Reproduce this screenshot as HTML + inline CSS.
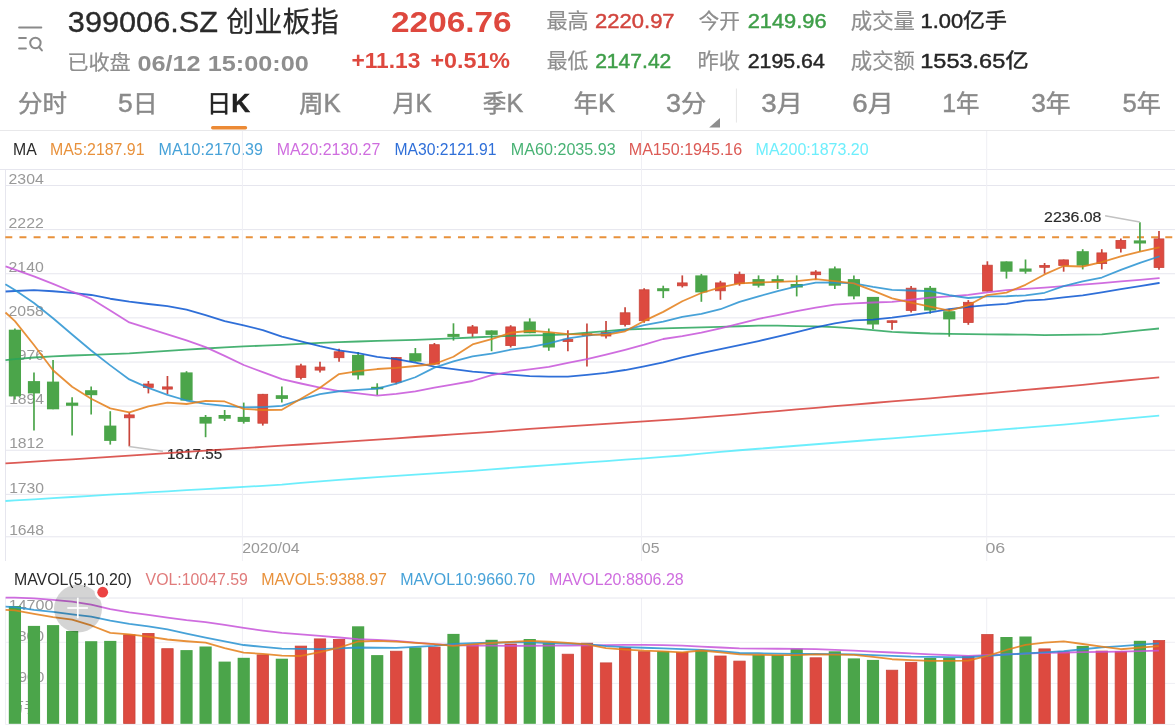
<!DOCTYPE html>
<html><head><meta charset="utf-8"><title>399006.SZ 创业板指</title>
<style>html,body{margin:0;padding:0;background:#fff;width:1175px;height:728px;overflow:hidden}svg{display:block;will-change:transform}</style>
</head><body>
<svg width="1175" height="728" viewBox="0 0 1175 728"><g stroke="#8a8a8a" stroke-width="2" fill="none" stroke-linecap="round"><line x1="19.1" y1="27.4" x2="41.3" y2="27.4"/><line x1="19.1" y1="38.1" x2="25.9" y2="38.1"/><line x1="19.1" y1="48.6" x2="25.9" y2="48.6"/><circle cx="35.4" cy="43" r="5.2"/><line x1="39.1" y1="47.2" x2="41.9" y2="50.4"/></g>
<text x="67.84" y="32.3" font-size="30.4" fill="#2a2a2a" text-anchor="start" font-weight="normal" font-family='"Liberation Sans","Noto Sans CJK SC",sans-serif' textLength="150.17" lengthAdjust="spacingAndGlyphs" stroke="#2a2a2a" stroke-width="0.35">399006.SZ</text>
<text x="226.21" y="32" font-size="28.5" fill="#2a2a2a" text-anchor="start" font-weight="normal" font-family='"Liberation Sans","Noto Sans CJK SC",sans-serif' textLength="112.59" lengthAdjust="spacingAndGlyphs" stroke="#2a2a2a" stroke-width="0.25">创业板指</text>
<text x="67.23" y="70" font-size="20.5" fill="#8e8e8e" text-anchor="start" font-weight="normal" font-family='"Liberation Sans","Noto Sans CJK SC",sans-serif' textLength="63.58" lengthAdjust="spacingAndGlyphs" stroke="#8e8e8e" stroke-width="0.2">已收盘</text>
<text x="137.45" y="70.5" font-size="22" fill="#8e8e8e" text-anchor="start" font-weight="bold" font-family='"Liberation Sans","Noto Sans CJK SC",sans-serif' textLength="171.37" lengthAdjust="spacingAndGlyphs" >06/12 15:00:00</text>
<text x="391.09" y="32.2" font-size="30" fill="#de483e" text-anchor="start" font-weight="bold" font-family='"Liberation Sans","Noto Sans CJK SC",sans-serif' textLength="120.42" lengthAdjust="spacingAndGlyphs" >2206.76</text>
<text x="351.44" y="68.4" font-size="21.4" fill="#de483e" text-anchor="start" font-weight="bold" font-family='"Liberation Sans","Noto Sans CJK SC",sans-serif' textLength="68.96" lengthAdjust="spacingAndGlyphs" >+11.13</text>
<text x="430.41" y="68.4" font-size="21.4" fill="#de483e" text-anchor="start" font-weight="bold" font-family='"Liberation Sans","Noto Sans CJK SC",sans-serif' textLength="79.66" lengthAdjust="spacingAndGlyphs" >+0.51%</text>
<text x="546.4" y="28" font-size="21" fill="#8e8e8e" text-anchor="start" font-weight="normal" font-family='"Liberation Sans","Noto Sans CJK SC",sans-serif' textLength="42.11" lengthAdjust="spacingAndGlyphs" stroke="#8e8e8e" stroke-width="0.2">最高</text>
<text x="595.13" y="28" font-size="20.5" fill="#d2453e" text-anchor="start" font-weight="normal" font-family='"Liberation Sans","Noto Sans CJK SC",sans-serif' textLength="79.46" lengthAdjust="spacingAndGlyphs" stroke="#d2453e" stroke-width="0.45">2220.97</text>
<text x="698.61" y="28" font-size="21" fill="#8e8e8e" text-anchor="start" font-weight="normal" font-family='"Liberation Sans","Noto Sans CJK SC",sans-serif' textLength="41.48" lengthAdjust="spacingAndGlyphs" stroke="#8e8e8e" stroke-width="0.2">今开</text>
<text x="747.74" y="28" font-size="20.5" fill="#3e9e48" text-anchor="start" font-weight="normal" font-family='"Liberation Sans","Noto Sans CJK SC",sans-serif' textLength="78.84" lengthAdjust="spacingAndGlyphs" stroke="#3e9e48" stroke-width="0.45">2149.96</text>
<text x="850.78" y="28" font-size="21" fill="#8e8e8e" text-anchor="start" font-weight="normal" font-family='"Liberation Sans","Noto Sans CJK SC",sans-serif' textLength="64.14" lengthAdjust="spacingAndGlyphs" stroke="#8e8e8e" stroke-width="0.2">成交量</text>
<text x="920.46" y="28" font-size="20.5" fill="#262626" text-anchor="start" font-weight="normal" font-family='"Liberation Sans","Noto Sans CJK SC",sans-serif' textLength="86.51" lengthAdjust="spacingAndGlyphs" stroke="#262626" stroke-width="0.45">1.00亿手</text>
<text x="546.71" y="67.7" font-size="21" fill="#8e8e8e" text-anchor="start" font-weight="normal" font-family='"Liberation Sans","Noto Sans CJK SC",sans-serif' textLength="41.48" lengthAdjust="spacingAndGlyphs" stroke="#8e8e8e" stroke-width="0.2">最低</text>
<text x="595.17" y="67.7" font-size="20.5" fill="#3e9e48" text-anchor="start" font-weight="normal" font-family='"Liberation Sans","Noto Sans CJK SC",sans-serif' textLength="76.17" lengthAdjust="spacingAndGlyphs" stroke="#3e9e48" stroke-width="0.45">2147.42</text>
<text x="697.57" y="67.7" font-size="21" fill="#8e8e8e" text-anchor="start" font-weight="normal" font-family='"Liberation Sans","Noto Sans CJK SC",sans-serif' textLength="42.54" lengthAdjust="spacingAndGlyphs" stroke="#8e8e8e" stroke-width="0.2">昨收</text>
<text x="747.76" y="67.7" font-size="20.5" fill="#262626" text-anchor="start" font-weight="normal" font-family='"Liberation Sans","Noto Sans CJK SC",sans-serif' textLength="77.05" lengthAdjust="spacingAndGlyphs" stroke="#262626" stroke-width="0.45">2195.64</text>
<text x="850.78" y="67.7" font-size="21" fill="#8e8e8e" text-anchor="start" font-weight="normal" font-family='"Liberation Sans","Noto Sans CJK SC",sans-serif' textLength="64.14" lengthAdjust="spacingAndGlyphs" stroke="#8e8e8e" stroke-width="0.2">成交额</text>
<text x="920.31" y="67.7" font-size="20.5" fill="#262626" text-anchor="start" font-weight="normal" font-family='"Liberation Sans","Noto Sans CJK SC",sans-serif' textLength="108.44" lengthAdjust="spacingAndGlyphs" stroke="#262626" stroke-width="0.45">1553.65亿</text>
<text x="18.06" y="112.4" font-size="25" fill="#8a8a8a" text-anchor="start" font-weight="normal" font-family='"Liberation Sans","Noto Sans CJK SC",sans-serif' textLength="48.98" lengthAdjust="spacingAndGlyphs" stroke="#8a8a8a" stroke-width="0.45"><tspan font-size="23.5">分时</tspan></text>
<text x="118.04" y="112.4" font-size="25" fill="#8a8a8a" text-anchor="start" font-weight="normal" font-family='"Liberation Sans","Noto Sans CJK SC",sans-serif' textLength="39.56" lengthAdjust="spacingAndGlyphs" stroke="#8a8a8a" stroke-width="0.45">5<tspan font-size="23.5">日</tspan></text>
<text x="206.84" y="112.4" font-size="25" fill="#222222" text-anchor="start" font-weight="normal" font-family='"Liberation Sans","Noto Sans CJK SC",sans-serif' textLength="43.25" lengthAdjust="spacingAndGlyphs" stroke="#222222" stroke-width="0.45"><tspan font-size="23.5">日</tspan><tspan font-weight="bold">K</tspan></text>
<text x="299.27" y="112.4" font-size="25" fill="#8a8a8a" text-anchor="start" font-weight="normal" font-family='"Liberation Sans","Noto Sans CJK SC",sans-serif' textLength="41.32" lengthAdjust="spacingAndGlyphs" stroke="#8a8a8a" stroke-width="0.45"><tspan font-size="23.5">周</tspan>K</text>
<text x="392.62" y="112.4" font-size="25" fill="#8a8a8a" text-anchor="start" font-weight="normal" font-family='"Liberation Sans","Noto Sans CJK SC",sans-serif' textLength="39.26" lengthAdjust="spacingAndGlyphs" stroke="#8a8a8a" stroke-width="0.45"><tspan font-size="23.5">月</tspan>K</text>
<text x="482.79" y="112.4" font-size="25" fill="#8a8a8a" text-anchor="start" font-weight="normal" font-family='"Liberation Sans","Noto Sans CJK SC",sans-serif' textLength="40.39" lengthAdjust="spacingAndGlyphs" stroke="#8a8a8a" stroke-width="0.45"><tspan font-size="23.5">季</tspan>K</text>
<text x="573.67" y="112.4" font-size="25" fill="#8a8a8a" text-anchor="start" font-weight="normal" font-family='"Liberation Sans","Noto Sans CJK SC",sans-serif' textLength="41.42" lengthAdjust="spacingAndGlyphs" stroke="#8a8a8a" stroke-width="0.45"><tspan font-size="23.5">年</tspan>K</text>
<text x="665.92" y="112.4" font-size="25" fill="#8a8a8a" text-anchor="start" font-weight="normal" font-family='"Liberation Sans","Noto Sans CJK SC",sans-serif' textLength="40.29" lengthAdjust="spacingAndGlyphs" stroke="#8a8a8a" stroke-width="0.45">3<tspan font-size="23.5">分</tspan></text>
<text x="761.39" y="112.4" font-size="25" fill="#8a8a8a" text-anchor="start" font-weight="normal" font-family='"Liberation Sans","Noto Sans CJK SC",sans-serif' textLength="41.38" lengthAdjust="spacingAndGlyphs" stroke="#8a8a8a" stroke-width="0.45">3<tspan font-size="23.5">月</tspan></text>
<text x="852.39" y="112.4" font-size="25" fill="#8a8a8a" text-anchor="start" font-weight="normal" font-family='"Liberation Sans","Noto Sans CJK SC",sans-serif' textLength="41.38" lengthAdjust="spacingAndGlyphs" stroke="#8a8a8a" stroke-width="0.45">6<tspan font-size="23.5">月</tspan></text>
<text x="942.21" y="112.4" font-size="25" fill="#8a8a8a" text-anchor="start" font-weight="normal" font-family='"Liberation Sans","Noto Sans CJK SC",sans-serif' textLength="37.19" lengthAdjust="spacingAndGlyphs" stroke="#8a8a8a" stroke-width="0.45">1<tspan font-size="23.5">年</tspan></text>
<text x="1031.15" y="112.4" font-size="25" fill="#8a8a8a" text-anchor="start" font-weight="normal" font-family='"Liberation Sans","Noto Sans CJK SC",sans-serif' textLength="39.38" lengthAdjust="spacingAndGlyphs" stroke="#8a8a8a" stroke-width="0.45">3<tspan font-size="23.5">年</tspan></text>
<text x="1122.47" y="112.4" font-size="25" fill="#8a8a8a" text-anchor="start" font-weight="normal" font-family='"Liberation Sans","Noto Sans CJK SC",sans-serif' textLength="38.34" lengthAdjust="spacingAndGlyphs" stroke="#8a8a8a" stroke-width="0.45">5<tspan font-size="23.5">年</tspan></text>
<text x="13.0" y="155.4" font-size="15.8" fill="#2a2a2a" text-anchor="start" font-weight="normal" font-family='"Liberation Sans","Noto Sans CJK SC",sans-serif' textLength="23.7" lengthAdjust="spacingAndGlyphs" >MA</text>
<text x="49.99" y="155.4" font-size="15.8" fill="#e8913b" text-anchor="start" font-weight="normal" font-family='"Liberation Sans","Noto Sans CJK SC",sans-serif' textLength="94.5" lengthAdjust="spacingAndGlyphs" >MA5:2187.91</text>
<text x="158.58" y="155.4" font-size="15.8" fill="#47a2d8" text-anchor="start" font-weight="normal" font-family='"Liberation Sans","Noto Sans CJK SC",sans-serif' textLength="104.39" lengthAdjust="spacingAndGlyphs" >MA10:2170.39</text>
<text x="276.69" y="155.4" font-size="15.8" fill="#cf6ddf" text-anchor="start" font-weight="normal" font-family='"Liberation Sans","Noto Sans CJK SC",sans-serif' textLength="103.58" lengthAdjust="spacingAndGlyphs" >MA20:2130.27</text>
<text x="394.41" y="155.4" font-size="15.8" fill="#2f6fd8" text-anchor="start" font-weight="normal" font-family='"Liberation Sans","Noto Sans CJK SC",sans-serif' textLength="102.05" lengthAdjust="spacingAndGlyphs" >MA30:2121.91</text>
<text x="510.88" y="155.4" font-size="15.8" fill="#48b274" text-anchor="start" font-weight="normal" font-family='"Liberation Sans","Noto Sans CJK SC",sans-serif' textLength="104.8" lengthAdjust="spacingAndGlyphs" >MA60:2035.93</text>
<text x="628.78" y="155.4" font-size="15.8" fill="#dc5a55" text-anchor="start" font-weight="normal" font-family='"Liberation Sans","Noto Sans CJK SC",sans-serif' textLength="113.47" lengthAdjust="spacingAndGlyphs" >MA150:1945.16</text>
<text x="755.59" y="155.4" font-size="15.8" fill="#6eeefc" text-anchor="start" font-weight="normal" font-family='"Liberation Sans","Noto Sans CJK SC",sans-serif' textLength="113.07" lengthAdjust="spacingAndGlyphs" >MA200:1873.20</text>
<text x="14.01" y="584.5" font-size="16" fill="#2a2a2a" text-anchor="start" font-weight="normal" font-family='"Liberation Sans","Noto Sans CJK SC",sans-serif' textLength="117.86" lengthAdjust="spacingAndGlyphs" >MAVOL(5,10,20)</text>
<text x="145.6" y="584.5" font-size="16" fill="#e07b7b" text-anchor="start" font-weight="normal" font-family='"Liberation Sans","Noto Sans CJK SC",sans-serif' textLength="102.29" lengthAdjust="spacingAndGlyphs" >VOL:10047.59</text>
<text x="261.3" y="584.5" font-size="16" fill="#e8913b" text-anchor="start" font-weight="normal" font-family='"Liberation Sans","Noto Sans CJK SC",sans-serif' textLength="125.71" lengthAdjust="spacingAndGlyphs" >MAVOL5:9388.97</text>
<text x="400.3" y="584.5" font-size="16" fill="#47a2d8" text-anchor="start" font-weight="normal" font-family='"Liberation Sans","Noto Sans CJK SC",sans-serif' textLength="134.8" lengthAdjust="spacingAndGlyphs" >MAVOL10:9660.70</text>
<text x="548.9" y="584.5" font-size="16" fill="#cf6ddf" text-anchor="start" font-weight="normal" font-family='"Liberation Sans","Noto Sans CJK SC",sans-serif' textLength="134.8" lengthAdjust="spacingAndGlyphs" >MAVOL20:8806.28</text>
<rect x="211" y="126" width="36.2" height="3.4" rx="1.7" fill="#ec8a35"/>
<path d="M720 118 L720 127.6 L709.2 127.6 Z" fill="#8e8e8e"/>
<line x1="736.4" y1="88.5" x2="736.4" y2="122.6" stroke="#e6e6e6" stroke-width="1"/>
<line x1="0" y1="130.5" x2="1175" y2="130.5" stroke="#e8e8ea" stroke-width="1.2"/>
<line x1="0" y1="169.5" x2="1175" y2="169.5" stroke="#e6e6ee" stroke-width="1"/>
<line x1="5.5" y1="185.50" x2="1175" y2="185.50" stroke="#e6e6ee" stroke-width="1"/>
<line x1="5.5" y1="229.62" x2="1175" y2="229.62" stroke="#e6e6ee" stroke-width="1"/>
<line x1="5.5" y1="273.75" x2="1175" y2="273.75" stroke="#e6e6ee" stroke-width="1"/>
<line x1="5.5" y1="317.88" x2="1175" y2="317.88" stroke="#e6e6ee" stroke-width="1"/>
<line x1="5.5" y1="362.00" x2="1175" y2="362.00" stroke="#e6e6ee" stroke-width="1"/>
<line x1="5.5" y1="406.12" x2="1175" y2="406.12" stroke="#e6e6ee" stroke-width="1"/>
<line x1="5.5" y1="450.25" x2="1175" y2="450.25" stroke="#e6e6ee" stroke-width="1"/>
<line x1="5.5" y1="494.38" x2="1175" y2="494.38" stroke="#e6e6ee" stroke-width="1"/>
<line x1="5.5" y1="536.8" x2="1175" y2="536.8" stroke="#e6e6ee" stroke-width="1"/>
<line x1="242.4" y1="131" x2="242.4" y2="561" stroke="#efeff4" stroke-width="1"/>
<line x1="242.4" y1="598" x2="242.4" y2="723.5" stroke="#efeff4" stroke-width="1"/>
<line x1="641.5" y1="131" x2="641.5" y2="561" stroke="#efeff4" stroke-width="1"/>
<line x1="641.5" y1="598" x2="641.5" y2="723.5" stroke="#efeff4" stroke-width="1"/>
<line x1="986.7" y1="131" x2="986.7" y2="561" stroke="#efeff4" stroke-width="1"/>
<line x1="986.7" y1="598" x2="986.7" y2="723.5" stroke="#efeff4" stroke-width="1"/>
<line x1="5.5" y1="169.5" x2="5.5" y2="561" stroke="#e6e6ee" stroke-width="1"/>
<line x1="5.5" y1="598" x2="1175" y2="598" stroke="#e6e6ee" stroke-width="1"/>
<line x1="5.5" y1="642.3" x2="1175" y2="642.3" stroke="#efeff4" stroke-width="1"/>
<line x1="5.5" y1="683.4" x2="1175" y2="683.4" stroke="#efeff4" stroke-width="1"/>
<line x1="5.5" y1="598" x2="5.5" y2="724.5" stroke="#efeff4" stroke-width="1"/>
<line x1="5.5" y1="724.5" x2="1175" y2="724.5" stroke="#efeff4" stroke-width="1"/>
<text x="8.54" y="184" font-size="15" fill="#999999" text-anchor="start" font-weight="normal" font-family='"Liberation Sans","Noto Sans CJK SC",sans-serif' textLength="35.25" lengthAdjust="spacingAndGlyphs" >2304</text>
<text x="8.54" y="228" font-size="15" fill="#999999" text-anchor="start" font-weight="normal" font-family='"Liberation Sans","Noto Sans CJK SC",sans-serif' textLength="35.25" lengthAdjust="spacingAndGlyphs" >2222</text>
<text x="8.54" y="272" font-size="15" fill="#999999" text-anchor="start" font-weight="normal" font-family='"Liberation Sans","Noto Sans CJK SC",sans-serif' textLength="35.25" lengthAdjust="spacingAndGlyphs" >2140</text>
<text x="8.54" y="316" font-size="15" fill="#999999" text-anchor="start" font-weight="normal" font-family='"Liberation Sans","Noto Sans CJK SC",sans-serif' textLength="35.25" lengthAdjust="spacingAndGlyphs" >2058</text>
<text x="9.15" y="360" font-size="15" fill="#999999" text-anchor="start" font-weight="normal" font-family='"Liberation Sans","Noto Sans CJK SC",sans-serif' textLength="34.94" lengthAdjust="spacingAndGlyphs" >1976</text>
<text x="9.15" y="404.3" font-size="15" fill="#999999" text-anchor="start" font-weight="normal" font-family='"Liberation Sans","Noto Sans CJK SC",sans-serif' textLength="34.94" lengthAdjust="spacingAndGlyphs" >1894</text>
<text x="9.15" y="448.3" font-size="15" fill="#999999" text-anchor="start" font-weight="normal" font-family='"Liberation Sans","Noto Sans CJK SC",sans-serif' textLength="34.94" lengthAdjust="spacingAndGlyphs" >1812</text>
<text x="9.15" y="492.6" font-size="15" fill="#999999" text-anchor="start" font-weight="normal" font-family='"Liberation Sans","Noto Sans CJK SC",sans-serif' textLength="34.94" lengthAdjust="spacingAndGlyphs" >1730</text>
<text x="9.15" y="534.8" font-size="15" fill="#999999" text-anchor="start" font-weight="normal" font-family='"Liberation Sans","Noto Sans CJK SC",sans-serif' textLength="34.94" lengthAdjust="spacingAndGlyphs" >1648</text>
<text x="242.17" y="553.4" font-size="15.5" fill="#999999" text-anchor="start" font-weight="normal" font-family='"Liberation Sans","Noto Sans CJK SC",sans-serif' textLength="57.56" lengthAdjust="spacingAndGlyphs" >2020/04</text>
<text x="641.88" y="553.4" font-size="15.5" fill="#999999" text-anchor="start" font-weight="normal" font-family='"Liberation Sans","Noto Sans CJK SC",sans-serif' textLength="17.68" lengthAdjust="spacingAndGlyphs" >05</text>
<text x="985.45" y="553.4" font-size="15.5" fill="#999999" text-anchor="start" font-weight="normal" font-family='"Liberation Sans","Noto Sans CJK SC",sans-serif' textLength="19.84" lengthAdjust="spacingAndGlyphs" >06</text>
<text x="8.73" y="610.2" font-size="15" fill="#999999" text-anchor="start" font-weight="normal" font-family='"Liberation Sans","Noto Sans CJK SC",sans-serif' textLength="44.74" lengthAdjust="spacingAndGlyphs" >14700</text>
<text x="8.94" y="640.5" font-size="15" fill="#999999" text-anchor="start" font-weight="normal" font-family='"Liberation Sans","Noto Sans CJK SC",sans-serif' textLength="35.25" lengthAdjust="spacingAndGlyphs" >9800</text>
<text x="10.0" y="681.6" font-size="15" fill="#999999" text-anchor="start" font-weight="normal" font-family='"Liberation Sans","Noto Sans CJK SC",sans-serif' textLength="34.18" lengthAdjust="spacingAndGlyphs" >4900</text>
<text x="10" y="712" font-size="14" fill="#999999" text-anchor="start" font-weight="normal" font-family='"Liberation Sans","Noto Sans CJK SC",sans-serif' >万手</text>
<line x1="5.3" y1="237.2" x2="1175" y2="237.2" stroke="#e8913b" stroke-width="2" stroke-dasharray="7,7.146"/>
<line x1="14.91" y1="328.4" x2="14.91" y2="399.5" stroke="#4ba54a" stroke-width="1.7"/>
<rect x="8.81" y="329.7" width="12.2" height="66.7" fill="#4ba54a"/>
<line x1="33.98" y1="372.4" x2="33.98" y2="430.5" stroke="#4ba54a" stroke-width="1.7"/>
<rect x="27.88" y="381.1" width="12.2" height="12.3" fill="#4ba54a"/>
<line x1="53.05" y1="360" x2="53.05" y2="409.3" stroke="#4ba54a" stroke-width="1.7"/>
<rect x="46.95" y="381.6" width="12.2" height="27.7" fill="#4ba54a"/>
<line x1="72.11" y1="397.2" x2="72.11" y2="435.5" stroke="#4ba54a" stroke-width="1.7"/>
<rect x="66.01" y="402.6" width="12.2" height="3.2" fill="#4ba54a"/>
<line x1="91.18" y1="386.5" x2="91.18" y2="414.5" stroke="#4ba54a" stroke-width="1.7"/>
<rect x="85.08" y="390.2" width="12.2" height="5.0" fill="#4ba54a"/>
<line x1="110.25" y1="411.2" x2="110.25" y2="444.6" stroke="#4ba54a" stroke-width="1.7"/>
<rect x="104.15" y="425.6" width="12.2" height="15.3" fill="#4ba54a"/>
<line x1="129.32" y1="412.5" x2="129.32" y2="446.4" stroke="#c8453b" stroke-width="1.7"/>
<rect x="124.42" y="414.90" width="9.8" height="2.9" fill="#dd4a40" stroke="#c8453b" stroke-width="0.8"/>
<line x1="148.39" y1="381" x2="148.39" y2="393.4" stroke="#c8453b" stroke-width="1.7"/>
<rect x="143.49" y="384.00" width="9.8" height="3.4" fill="#dd4a40" stroke="#c8453b" stroke-width="0.8"/>
<line x1="167.45" y1="376" x2="167.45" y2="394" stroke="#c8453b" stroke-width="1.7"/>
<rect x="162.55" y="386.90" width="9.8" height="2.2" fill="#dd4a40" stroke="#c8453b" stroke-width="0.8"/>
<line x1="186.52" y1="371.2" x2="186.52" y2="400.6" stroke="#4ba54a" stroke-width="1.7"/>
<rect x="180.42" y="372.4" width="12.2" height="28.2" fill="#4ba54a"/>
<line x1="205.59" y1="415" x2="205.59" y2="437.2" stroke="#4ba54a" stroke-width="1.7"/>
<rect x="199.49" y="416.9" width="12.2" height="6.7" fill="#4ba54a"/>
<line x1="224.66" y1="410" x2="224.66" y2="421" stroke="#4ba54a" stroke-width="1.7"/>
<rect x="218.56" y="415" width="12.2" height="3.7" fill="#4ba54a"/>
<line x1="243.73" y1="402.6" x2="243.73" y2="423.6" stroke="#4ba54a" stroke-width="1.7"/>
<rect x="237.63" y="416.9" width="12.2" height="5.0" fill="#4ba54a"/>
<line x1="262.79" y1="393.9" x2="262.79" y2="425.6" stroke="#c8453b" stroke-width="1.7"/>
<rect x="257.89" y="394.30" width="9.8" height="28.9" fill="#dd4a40" stroke="#c8453b" stroke-width="0.8"/>
<line x1="281.86" y1="386.5" x2="281.86" y2="402.6" stroke="#4ba54a" stroke-width="1.7"/>
<rect x="275.76" y="395.2" width="12.2" height="3.7" fill="#4ba54a"/>
<line x1="300.93" y1="363.8" x2="300.93" y2="379.6" stroke="#c8453b" stroke-width="1.7"/>
<rect x="296.03" y="365.90" width="9.8" height="11.6" fill="#dd4a40" stroke="#c8453b" stroke-width="0.8"/>
<line x1="320.00" y1="361.8" x2="320.00" y2="372.4" stroke="#c8453b" stroke-width="1.7"/>
<rect x="315.10" y="367.10" width="9.8" height="3.0" fill="#dd4a40" stroke="#c8453b" stroke-width="0.8"/>
<line x1="339.07" y1="348.7" x2="339.07" y2="361.8" stroke="#c8453b" stroke-width="1.7"/>
<rect x="334.17" y="351.80" width="9.8" height="5.9" fill="#dd4a40" stroke="#c8453b" stroke-width="0.8"/>
<line x1="358.13" y1="351.9" x2="358.13" y2="379.6" stroke="#4ba54a" stroke-width="1.7"/>
<rect x="352.03" y="354.9" width="12.2" height="20.5" fill="#4ba54a"/>
<line x1="377.20" y1="383.3" x2="377.20" y2="395" stroke="#4ba54a" stroke-width="1.7"/>
<rect x="371.10" y="386.8" width="12.2" height="2.5" fill="#4ba54a"/>
<line x1="396.27" y1="357.1" x2="396.27" y2="384.3" stroke="#c8453b" stroke-width="1.7"/>
<rect x="391.37" y="357.50" width="9.8" height="24.7" fill="#dd4a40" stroke="#c8453b" stroke-width="0.8"/>
<line x1="415.34" y1="348" x2="415.34" y2="361.6" stroke="#4ba54a" stroke-width="1.7"/>
<rect x="409.24" y="353.2" width="12.2" height="8.4" fill="#4ba54a"/>
<line x1="434.41" y1="343" x2="434.41" y2="364.5" stroke="#c8453b" stroke-width="1.7"/>
<rect x="429.51" y="344.70" width="9.8" height="19.4" fill="#dd4a40" stroke="#c8453b" stroke-width="0.8"/>
<line x1="453.47" y1="323.3" x2="453.47" y2="340.6" stroke="#4ba54a" stroke-width="1.7"/>
<rect x="447.37" y="333.9" width="12.2" height="3.0" fill="#4ba54a"/>
<line x1="472.54" y1="325" x2="472.54" y2="336.9" stroke="#c8453b" stroke-width="1.7"/>
<rect x="467.64" y="326.90" width="9.8" height="6.3" fill="#dd4a40" stroke="#c8453b" stroke-width="0.8"/>
<line x1="491.61" y1="330.4" x2="491.61" y2="351.2" stroke="#4ba54a" stroke-width="1.7"/>
<rect x="485.51" y="330.4" width="12.2" height="4.5" fill="#4ba54a"/>
<line x1="510.68" y1="325.2" x2="510.68" y2="347.5" stroke="#c8453b" stroke-width="1.7"/>
<rect x="505.78" y="326.90" width="9.8" height="18.7" fill="#dd4a40" stroke="#c8453b" stroke-width="0.8"/>
<line x1="529.75" y1="318.3" x2="529.75" y2="333.2" stroke="#4ba54a" stroke-width="1.7"/>
<rect x="523.65" y="321.5" width="12.2" height="11.7" fill="#4ba54a"/>
<line x1="548.81" y1="328.5" x2="548.81" y2="350.8" stroke="#4ba54a" stroke-width="1.7"/>
<rect x="542.71" y="332.7" width="12.2" height="14.8" fill="#4ba54a"/>
<line x1="567.88" y1="330.2" x2="567.88" y2="351.2" stroke="#c8453b" stroke-width="1.7"/>
<rect x="562.98" y="339.30" width="9.8" height="2.2" fill="#dd4a40" stroke="#c8453b" stroke-width="0.8"/>
<line x1="586.95" y1="323.6" x2="586.95" y2="366.6" stroke="#c8453b" stroke-width="1.7"/>
<rect x="582.05" y="333.80" width="9.8" height="1.6" fill="#dd4a40" stroke="#c8453b" stroke-width="0.8"/>
<line x1="606.02" y1="321" x2="606.02" y2="338.4" stroke="#c8453b" stroke-width="1.7"/>
<rect x="601.12" y="332.60" width="9.8" height="3.4" fill="#dd4a40" stroke="#c8453b" stroke-width="0.8"/>
<line x1="625.09" y1="307.2" x2="625.09" y2="326.5" stroke="#c8453b" stroke-width="1.7"/>
<rect x="620.19" y="312.80" width="9.8" height="11.6" fill="#dd4a40" stroke="#c8453b" stroke-width="0.8"/>
<line x1="644.15" y1="288.2" x2="644.15" y2="322.8" stroke="#c8453b" stroke-width="1.7"/>
<rect x="639.25" y="289.80" width="9.8" height="30.9" fill="#dd4a40" stroke="#c8453b" stroke-width="0.8"/>
<line x1="663.22" y1="285.7" x2="663.22" y2="298.1" stroke="#4ba54a" stroke-width="1.7"/>
<rect x="657.12" y="288.2" width="12.2" height="3.0" fill="#4ba54a"/>
<line x1="682.29" y1="275.4" x2="682.29" y2="287.5" stroke="#c8453b" stroke-width="1.7"/>
<rect x="677.39" y="282.90" width="9.8" height="2.9" fill="#dd4a40" stroke="#c8453b" stroke-width="0.8"/>
<line x1="701.36" y1="273.9" x2="701.36" y2="301.8" stroke="#4ba54a" stroke-width="1.7"/>
<rect x="695.26" y="275.4" width="12.2" height="17.0" fill="#4ba54a"/>
<line x1="720.43" y1="280.8" x2="720.43" y2="299.8" stroke="#c8453b" stroke-width="1.7"/>
<rect x="715.53" y="282.90" width="9.8" height="7.9" fill="#dd4a40" stroke="#c8453b" stroke-width="0.8"/>
<line x1="739.49" y1="271.6" x2="739.49" y2="285.7" stroke="#c8453b" stroke-width="1.7"/>
<rect x="734.59" y="274.30" width="9.8" height="9.3" fill="#dd4a40" stroke="#c8453b" stroke-width="0.8"/>
<line x1="758.56" y1="275.4" x2="758.56" y2="287.5" stroke="#4ba54a" stroke-width="1.7"/>
<rect x="752.46" y="279.1" width="12.2" height="6.6" fill="#4ba54a"/>
<line x1="777.63" y1="275.4" x2="777.63" y2="289" stroke="#4ba54a" stroke-width="1.7"/>
<rect x="771.53" y="279.1" width="12.2" height="2.9" fill="#4ba54a"/>
<line x1="796.70" y1="275.4" x2="796.70" y2="296.4" stroke="#4ba54a" stroke-width="1.7"/>
<rect x="790.60" y="284" width="12.2" height="3.5" fill="#4ba54a"/>
<line x1="815.77" y1="270.2" x2="815.77" y2="279.6" stroke="#c8453b" stroke-width="1.7"/>
<rect x="810.87" y="272.00" width="9.8" height="2.7" fill="#dd4a40" stroke="#c8453b" stroke-width="0.8"/>
<line x1="834.83" y1="266.5" x2="834.83" y2="289" stroke="#4ba54a" stroke-width="1.7"/>
<rect x="828.73" y="268.4" width="12.2" height="17.3" fill="#4ba54a"/>
<line x1="853.90" y1="275.4" x2="853.90" y2="299.3" stroke="#4ba54a" stroke-width="1.7"/>
<rect x="847.80" y="279.1" width="12.2" height="17.3" fill="#4ba54a"/>
<line x1="872.97" y1="296.9" x2="872.97" y2="329" stroke="#4ba54a" stroke-width="1.7"/>
<rect x="866.87" y="296.9" width="12.2" height="27.6" fill="#4ba54a"/>
<line x1="892.04" y1="320.4" x2="892.04" y2="329.8" stroke="#c8453b" stroke-width="1.7"/>
<rect x="887.14" y="320.80" width="9.8" height="1.7" fill="#dd4a40" stroke="#c8453b" stroke-width="0.8"/>
<line x1="911.11" y1="286" x2="911.11" y2="312.5" stroke="#c8453b" stroke-width="1.7"/>
<rect x="906.21" y="288.20" width="9.8" height="22.2" fill="#dd4a40" stroke="#c8453b" stroke-width="0.8"/>
<line x1="930.17" y1="286" x2="930.17" y2="313.7" stroke="#4ba54a" stroke-width="1.7"/>
<rect x="924.07" y="287.8" width="12.2" height="22.7" fill="#4ba54a"/>
<line x1="949.24" y1="308.8" x2="949.24" y2="336.7" stroke="#4ba54a" stroke-width="1.7"/>
<rect x="943.14" y="311.2" width="12.2" height="8.2" fill="#4ba54a"/>
<line x1="968.31" y1="300.1" x2="968.31" y2="324.8" stroke="#c8453b" stroke-width="1.7"/>
<rect x="963.41" y="302.30" width="9.8" height="20.2" fill="#dd4a40" stroke="#c8453b" stroke-width="0.8"/>
<line x1="987.38" y1="261.3" x2="987.38" y2="291.5" stroke="#c8453b" stroke-width="1.7"/>
<rect x="982.48" y="265.20" width="9.8" height="25.9" fill="#dd4a40" stroke="#c8453b" stroke-width="0.8"/>
<line x1="1006.45" y1="261.4" x2="1006.45" y2="278.6" stroke="#4ba54a" stroke-width="1.7"/>
<rect x="1000.35" y="261.4" width="12.2" height="10.3" fill="#4ba54a"/>
<line x1="1025.51" y1="259.5" x2="1025.51" y2="273.7" stroke="#4ba54a" stroke-width="1.7"/>
<rect x="1019.41" y="268.5" width="12.2" height="3.2" fill="#4ba54a"/>
<line x1="1044.58" y1="263" x2="1044.58" y2="273.7" stroke="#c8453b" stroke-width="1.7"/>
<rect x="1039.68" y="265.40" width="9.8" height="1.9" fill="#dd4a40" stroke="#c8453b" stroke-width="0.8"/>
<line x1="1063.65" y1="259.5" x2="1063.65" y2="271.7" stroke="#c8453b" stroke-width="1.7"/>
<rect x="1058.75" y="259.90" width="9.8" height="5.5" fill="#dd4a40" stroke="#c8453b" stroke-width="0.8"/>
<line x1="1082.72" y1="249.2" x2="1082.72" y2="269.4" stroke="#4ba54a" stroke-width="1.7"/>
<rect x="1076.62" y="251.2" width="12.2" height="14.4" fill="#4ba54a"/>
<line x1="1101.79" y1="249.2" x2="1101.79" y2="269.4" stroke="#c8453b" stroke-width="1.7"/>
<rect x="1096.89" y="252.90" width="9.8" height="10.7" fill="#dd4a40" stroke="#c8453b" stroke-width="0.8"/>
<line x1="1120.85" y1="238.5" x2="1120.85" y2="252.5" stroke="#c8453b" stroke-width="1.7"/>
<rect x="1115.95" y="240.40" width="9.8" height="7.9" fill="#dd4a40" stroke="#c8453b" stroke-width="0.8"/>
<line x1="1139.92" y1="222.3" x2="1139.92" y2="251.5" stroke="#4ba54a" stroke-width="1.7"/>
<rect x="1133.82" y="240.4" width="12.2" height="3.1" fill="#4ba54a"/>
<line x1="1158.99" y1="231" x2="1158.99" y2="269.8" stroke="#c8453b" stroke-width="1.7"/>
<rect x="1154.09" y="238.90" width="9.8" height="28.6" fill="#dd4a40" stroke="#c8453b" stroke-width="0.8"/>
<polyline points="129,446.4 162.9,451.3" fill="none" stroke="#c2c2c2" stroke-width="1.5"/>
<polyline points="1105.1,215.7 1139.8,222" fill="none" stroke="#c2c2c2" stroke-width="1.5"/>
<text x="167.02" y="458.7" font-size="15.5" fill="#2a2a2a" text-anchor="start" font-weight="normal" font-family='"Liberation Sans","Noto Sans CJK SC",sans-serif' textLength="55.11" lengthAdjust="spacingAndGlyphs" stroke="#2a2a2a" stroke-width="0.2">1817.55</text>
<text x="1044.08" y="222" font-size="15.5" fill="#2a2a2a" text-anchor="start" font-weight="normal" font-family='"Liberation Sans","Noto Sans CJK SC",sans-serif' textLength="57.36" lengthAdjust="spacingAndGlyphs" stroke="#2a2a2a" stroke-width="0.2">2236.08</text>
<polyline points="5.50,501.00 14.91,500.43 33.98,499.28 53.05,498.13 72.11,496.98 91.18,495.83 110.25,494.69 129.32,493.54 148.39,492.43 167.45,491.33 186.52,490.22 205.59,489.12 224.66,488.01 243.73,486.90 262.79,485.80 281.86,484.64 300.93,482.96 320.00,481.28 339.07,479.79 358.13,478.51 377.20,477.22 396.27,475.94 415.34,474.65 434.41,473.37 453.47,472.09 472.54,470.80 491.61,469.42 510.68,467.97 529.75,466.52 548.81,465.15 567.88,463.77 586.95,462.40 606.02,461.03 625.09,459.65 644.15,458.28 663.22,456.91 682.29,455.48 701.36,453.69 720.43,451.90 739.49,450.25 758.56,448.75 777.63,447.25 796.70,445.75 815.77,444.25 834.83,442.75 853.90,441.25 872.97,439.75 892.04,438.29 911.11,436.84 930.17,435.39 949.24,433.83 968.31,432.28 987.38,430.73 1006.45,429.18 1025.51,427.63 1044.58,426.08 1063.65,424.53 1082.72,422.93 1101.79,421.02 1120.85,419.11 1139.92,417.35 1159.20,415.70" fill="none" stroke="#54ebfb" stroke-opacity="0.85" stroke-width="1.8" stroke-linejoin="round" stroke-linecap="butt"/>
<polyline points="5.50,463.40 14.91,462.82 33.98,461.64 53.05,460.46 72.11,459.29 91.18,458.06 110.25,456.80 129.32,455.55 148.39,454.31 167.45,453.08 186.52,451.84 205.59,450.61 224.66,449.38 243.73,448.15 262.79,446.91 281.86,445.68 300.93,444.50 320.00,443.32 339.07,442.10 358.13,440.82 377.20,439.55 396.27,438.28 415.34,437.01 434.41,435.74 453.47,434.47 472.54,433.20 491.61,431.79 510.68,430.31 529.75,428.82 548.81,427.58 567.88,426.35 586.95,425.12 606.02,423.88 625.09,422.65 644.15,421.42 663.22,420.18 682.29,418.92 701.36,417.39 720.43,415.87 739.49,414.30 758.56,412.68 777.63,411.07 796.70,409.45 815.77,407.84 834.83,406.22 853.90,404.61 872.97,403.00 892.04,401.44 911.11,399.91 930.17,398.38 949.24,396.69 968.31,395.00 987.38,393.31 1006.45,391.62 1025.51,389.93 1044.58,388.24 1063.65,386.55 1082.72,384.83 1101.79,382.92 1120.85,381.01 1139.92,379.15 1159.20,377.30" fill="none" stroke="#d63d37" stroke-opacity="0.85" stroke-width="1.8" stroke-linejoin="round" stroke-linecap="butt"/>
<polyline points="5.50,360.20 14.91,359.16 33.98,357.50 53.05,356.46 72.11,355.52 91.18,354.82 110.25,354.11 129.32,353.38 148.39,352.19 167.45,350.89 186.52,349.59 205.59,348.48 224.66,347.44 243.73,346.42 262.79,345.65 281.86,344.85 300.93,343.89 320.00,342.92 339.07,342.15 358.13,341.52 377.20,340.89 396.27,340.41 415.34,339.86 434.41,339.09 453.47,338.32 472.54,337.52 491.61,336.68 510.68,335.83 529.75,335.36 548.81,335.05 567.88,334.45 586.95,332.63 606.02,331.09 625.09,329.48 644.15,328.89 663.22,328.42 682.29,327.92 701.36,327.40 720.43,326.84 739.49,326.24 758.56,325.65 777.63,325.67 796.70,326.05 815.77,326.44 834.83,327.20 853.90,328.32 872.97,330.17 892.04,331.91 911.11,332.75 930.17,333.51 949.24,333.78 968.31,334.05 987.38,334.29 1006.45,334.48 1025.51,334.67 1044.58,335.11 1063.65,334.96 1082.72,334.67 1101.79,334.32 1120.85,332.38 1139.92,330.44 1159.00,328.50" fill="none" stroke="#28a45b" stroke-opacity="0.85" stroke-width="1.8" stroke-linejoin="round" stroke-linecap="butt"/>
<polyline points="5.60,291.50 14.91,291.00 33.98,290.04 53.05,291.25 72.11,292.89 91.18,294.99 110.25,298.74 129.32,301.71 148.39,304.00 167.45,306.06 186.52,309.65 205.59,315.08 224.66,321.05 243.73,325.44 262.79,330.09 281.86,336.54 300.93,341.32 320.00,346.06 339.07,350.33 358.13,353.23 377.20,356.87 396.27,359.02 415.34,362.74 434.41,366.53 453.47,369.10 472.54,371.60 491.61,373.10 510.68,374.59 529.75,376.14 548.81,376.54 567.88,376.64 586.95,374.87 606.02,372.87 625.09,370.01 644.15,366.28 663.22,362.48 682.29,357.33 701.36,353.12 720.43,349.21 739.49,345.15 758.56,341.06 777.63,336.59 796.70,332.08 815.77,327.31 834.83,323.44 853.90,320.29 872.97,319.64 892.04,317.72 911.11,315.06 930.17,312.37 949.24,309.14 968.31,306.89 987.38,305.09 1006.45,303.88 1025.51,300.58 1044.58,299.56 1063.65,297.48 1082.72,295.40 1101.79,292.32 1120.85,289.06 1139.92,286.03 1158.99,283.00 1159.60,282.90" fill="none" stroke="#0a56d1" stroke-opacity="0.85" stroke-width="1.8" stroke-linejoin="round" stroke-linecap="butt"/>
<polyline points="5.60,266.40 14.91,269.67 33.98,276.38 53.05,283.87 72.11,291.72 91.18,298.65 110.25,310.51 129.32,322.43 148.39,328.43 167.45,334.40 186.52,340.37 205.59,347.16 224.66,355.93 243.73,365.02 262.79,372.15 281.86,379.20 300.93,383.50 320.00,387.61 339.07,391.19 358.13,393.38 377.20,395.69 396.27,393.81 415.34,391.36 434.41,387.69 453.47,384.33 472.54,380.99 491.61,375.23 510.68,371.70 529.75,369.45 548.81,366.82 567.88,362.97 586.95,359.19 606.02,354.55 625.09,349.77 644.15,344.73 663.22,339.01 682.29,336.10 701.36,332.57 720.43,328.39 739.49,323.56 758.56,318.81 777.63,315.01 796.70,311.23 815.77,307.68 834.83,304.56 853.90,303.30 872.97,302.49 892.04,301.83 911.11,299.76 930.17,297.65 949.24,296.36 968.31,294.96 987.38,292.39 1006.45,290.03 1025.51,288.88 1044.58,287.64 1063.65,286.20 1082.72,284.70 1101.79,283.07 1120.85,281.43 1139.92,279.79 1158.99,278.15 1159.60,278.10" fill="none" stroke="#c753d9" stroke-opacity="0.85" stroke-width="1.8" stroke-linejoin="round" stroke-linecap="butt"/>
<polyline points="5.40,284.20 14.91,290.11 33.98,302.99 53.05,318.28 72.11,334.47 91.18,350.44 110.25,365.38 129.32,379.42 148.39,387.83 167.45,394.96 186.52,400.50 205.59,403.89 224.66,405.82 243.73,407.46 262.79,407.10 281.86,405.80 300.93,399.48 320.00,394.15 339.07,391.24 358.13,389.89 377.20,388.68 396.27,383.68 415.34,377.23 434.41,367.66 453.47,361.40 472.54,356.40 491.61,353.58 510.68,349.72 529.75,347.14 548.81,343.42 567.88,338.42 586.95,335.57 606.02,333.52 625.09,329.98 644.15,325.23 663.22,321.67 682.29,316.88 701.36,313.97 720.43,309.22 739.49,301.92 758.56,296.35 777.63,291.14 796.70,286.49 815.77,282.63 834.83,282.50 853.90,283.47 872.97,286.94 892.04,289.85 911.11,290.50 930.17,291.17 949.24,295.24 968.31,298.01 987.38,296.40 1006.45,296.27 1025.51,295.33 1044.58,292.77 1063.65,286.16 1082.72,281.30 1101.79,277.52 1120.85,269.94 1139.92,262.88 1158.99,256.50 1159.60,256.30" fill="none" stroke="#2792d1" stroke-opacity="0.85" stroke-width="1.8" stroke-linejoin="round" stroke-linecap="butt"/>
<polyline points="5.50,312.50 14.91,321.12 33.98,345.04 53.05,370.20 72.11,386.76 91.18,398.70 110.25,408.33 129.32,412.27 148.39,406.28 167.45,402.72 186.52,403.99 205.59,400.92 224.66,401.47 243.73,408.92 262.79,410.00 281.86,409.74 300.93,398.84 320.00,387.81 339.07,374.07 358.13,371.18 377.20,369.02 396.27,367.84 415.34,365.98 434.41,364.02 453.47,356.76 472.54,344.43 491.61,339.10 510.68,332.74 529.75,330.76 548.81,332.05 567.88,334.06 586.95,334.50 606.02,334.87 625.09,331.27 644.15,320.93 663.22,311.88 682.29,301.22 701.36,293.00 720.43,287.27 739.49,283.36 758.56,282.48 777.63,281.83 796.70,281.21 815.77,279.16 834.83,281.21 853.90,283.45 872.97,290.58 892.04,298.40 911.11,302.53 930.17,306.52 949.24,310.57 968.31,305.29 987.38,295.06 1006.45,292.57 1025.51,284.82 1044.58,274.43 1063.65,266.00 1082.72,266.50 1101.79,262.13 1120.85,256.40 1139.92,251.62 1158.99,247.43 1159.60,247.30" fill="none" stroke="#e47e18" stroke-opacity="0.85" stroke-width="1.8" stroke-linejoin="round" stroke-linecap="butt"/>
<rect x="8.81" y="606" width="12.2" height="117.8" fill="#4ba54a"/>
<rect x="27.88" y="625.9" width="12.2" height="97.9" fill="#4ba54a"/>
<rect x="46.95" y="625.1" width="12.2" height="98.7" fill="#4ba54a"/>
<rect x="66.01" y="631" width="12.2" height="92.8" fill="#4ba54a"/>
<rect x="85.08" y="641.2" width="12.2" height="82.6" fill="#4ba54a"/>
<rect x="104.15" y="640.9" width="12.2" height="82.9" fill="#4ba54a"/>
<rect x="123.62" y="634.90" width="11.4" height="88.5" fill="#dd4a40" stroke="#c8453b" stroke-width="0.8"/>
<rect x="142.69" y="633.40" width="11.4" height="90.0" fill="#dd4a40" stroke="#c8453b" stroke-width="0.8"/>
<rect x="161.75" y="648.70" width="11.4" height="74.7" fill="#dd4a40" stroke="#c8453b" stroke-width="0.8"/>
<rect x="180.42" y="650.1" width="12.2" height="73.7" fill="#4ba54a"/>
<rect x="199.49" y="646.5" width="12.2" height="77.3" fill="#4ba54a"/>
<rect x="218.56" y="661.6" width="12.2" height="62.2" fill="#4ba54a"/>
<rect x="237.63" y="657.8" width="12.2" height="66.0" fill="#4ba54a"/>
<rect x="257.09" y="654.90" width="11.4" height="68.5" fill="#dd4a40" stroke="#c8453b" stroke-width="0.8"/>
<rect x="275.76" y="658.7" width="12.2" height="65.1" fill="#4ba54a"/>
<rect x="295.23" y="646.10" width="11.4" height="77.3" fill="#dd4a40" stroke="#c8453b" stroke-width="0.8"/>
<rect x="314.30" y="638.90" width="11.4" height="84.5" fill="#dd4a40" stroke="#c8453b" stroke-width="0.8"/>
<rect x="333.37" y="639.40" width="11.4" height="84.0" fill="#dd4a40" stroke="#c8453b" stroke-width="0.8"/>
<rect x="352.03" y="626.3" width="12.2" height="97.5" fill="#4ba54a"/>
<rect x="371.10" y="655.1" width="12.2" height="68.7" fill="#4ba54a"/>
<rect x="390.57" y="651.20" width="11.4" height="72.2" fill="#dd4a40" stroke="#c8453b" stroke-width="0.8"/>
<rect x="409.24" y="647.4" width="12.2" height="76.4" fill="#4ba54a"/>
<rect x="428.71" y="647.10" width="11.4" height="76.3" fill="#dd4a40" stroke="#c8453b" stroke-width="0.8"/>
<rect x="447.37" y="633.9" width="12.2" height="89.9" fill="#4ba54a"/>
<rect x="466.84" y="644.80" width="11.4" height="78.6" fill="#dd4a40" stroke="#c8453b" stroke-width="0.8"/>
<rect x="485.51" y="639.8" width="12.2" height="84.0" fill="#4ba54a"/>
<rect x="504.98" y="644.00" width="11.4" height="79.4" fill="#dd4a40" stroke="#c8453b" stroke-width="0.8"/>
<rect x="523.65" y="639" width="12.2" height="84.8" fill="#4ba54a"/>
<rect x="542.71" y="643.1" width="12.2" height="80.7" fill="#4ba54a"/>
<rect x="562.18" y="654.20" width="11.4" height="69.2" fill="#dd4a40" stroke="#c8453b" stroke-width="0.8"/>
<rect x="581.25" y="643.20" width="11.4" height="80.2" fill="#dd4a40" stroke="#c8453b" stroke-width="0.8"/>
<rect x="600.32" y="662.90" width="11.4" height="60.5" fill="#dd4a40" stroke="#c8453b" stroke-width="0.8"/>
<rect x="619.39" y="647.80" width="11.4" height="75.6" fill="#dd4a40" stroke="#c8453b" stroke-width="0.8"/>
<rect x="638.45" y="651.70" width="11.4" height="71.7" fill="#dd4a40" stroke="#c8453b" stroke-width="0.8"/>
<rect x="657.12" y="651.3" width="12.2" height="72.5" fill="#4ba54a"/>
<rect x="676.59" y="652.40" width="11.4" height="71.0" fill="#dd4a40" stroke="#c8453b" stroke-width="0.8"/>
<rect x="695.26" y="650.5" width="12.2" height="73.3" fill="#4ba54a"/>
<rect x="714.73" y="656.00" width="11.4" height="67.4" fill="#dd4a40" stroke="#c8453b" stroke-width="0.8"/>
<rect x="733.79" y="661.10" width="11.4" height="62.3" fill="#dd4a40" stroke="#c8453b" stroke-width="0.8"/>
<rect x="752.46" y="655.1" width="12.2" height="68.7" fill="#4ba54a"/>
<rect x="771.53" y="655.1" width="12.2" height="68.7" fill="#4ba54a"/>
<rect x="790.60" y="648.7" width="12.2" height="75.1" fill="#4ba54a"/>
<rect x="810.07" y="657.80" width="11.4" height="65.6" fill="#dd4a40" stroke="#c8453b" stroke-width="0.8"/>
<rect x="828.73" y="651.3" width="12.2" height="72.5" fill="#4ba54a"/>
<rect x="847.80" y="658.4" width="12.2" height="65.4" fill="#4ba54a"/>
<rect x="866.87" y="659.9" width="12.2" height="63.9" fill="#4ba54a"/>
<rect x="886.34" y="670.20" width="11.4" height="53.2" fill="#dd4a40" stroke="#c8453b" stroke-width="0.8"/>
<rect x="905.41" y="662.30" width="11.4" height="61.1" fill="#dd4a40" stroke="#c8453b" stroke-width="0.8"/>
<rect x="924.07" y="657.9" width="12.2" height="65.9" fill="#4ba54a"/>
<rect x="943.14" y="657.9" width="12.2" height="65.9" fill="#4ba54a"/>
<rect x="962.61" y="656.60" width="11.4" height="66.8" fill="#dd4a40" stroke="#c8453b" stroke-width="0.8"/>
<rect x="981.68" y="634.60" width="11.4" height="88.8" fill="#dd4a40" stroke="#c8453b" stroke-width="0.8"/>
<rect x="1000.35" y="637" width="12.2" height="86.8" fill="#4ba54a"/>
<rect x="1019.41" y="636.5" width="12.2" height="87.3" fill="#4ba54a"/>
<rect x="1038.88" y="648.90" width="11.4" height="74.5" fill="#dd4a40" stroke="#c8453b" stroke-width="0.8"/>
<rect x="1057.95" y="651.70" width="11.4" height="71.7" fill="#dd4a40" stroke="#c8453b" stroke-width="0.8"/>
<rect x="1076.62" y="645.9" width="12.2" height="77.9" fill="#4ba54a"/>
<rect x="1096.09" y="651.10" width="11.4" height="72.3" fill="#dd4a40" stroke="#c8453b" stroke-width="0.8"/>
<rect x="1115.15" y="651.70" width="11.4" height="71.7" fill="#dd4a40" stroke="#c8453b" stroke-width="0.8"/>
<rect x="1133.82" y="640.8" width="12.2" height="83.0" fill="#4ba54a"/>
<rect x="1153.29" y="640.60" width="11.4" height="82.8" fill="#dd4a40" stroke="#c8453b" stroke-width="0.8"/>
<polyline points="5.60,597.70 14.91,597.70 33.98,598.36 53.05,599.88 72.11,601.60 91.18,604.68 110.25,609.18 129.32,612.41 148.39,614.91 167.45,617.68 186.52,620.17 205.59,622.11 224.66,624.94 243.73,627.83 262.79,630.54 281.86,632.85 300.93,634.34 320.00,635.85 339.07,637.49 358.13,639.07 377.20,639.97 396.27,640.92 415.34,642.56 434.41,644.16 453.47,645.13 472.54,645.54 491.61,645.72 510.68,645.89 529.75,645.76 548.81,645.62 567.88,645.49 586.95,645.33 606.02,645.12 625.09,644.92 644.15,644.90 663.22,645.15 682.29,645.66 701.36,646.59 720.43,647.51 739.49,648.41 758.56,648.58 777.63,648.76 796.70,648.93 815.77,649.12 834.83,649.89 853.90,650.65 872.97,651.55 892.04,652.51 911.11,653.47 930.17,654.34 949.24,655.20 968.31,655.95 987.38,655.17 1006.45,654.41 1025.51,653.67 1044.58,652.92 1063.65,652.52 1082.72,652.19 1101.79,651.86 1120.85,651.53 1139.92,651.09 1158.90,650.60" fill="none" stroke="#c753d9" stroke-opacity="0.85" stroke-width="1.8" stroke-linejoin="round" stroke-linecap="butt"/>
<polyline points="5.60,606.60 14.91,607.08 33.98,609.96 53.05,611.96 72.11,614.38 91.18,616.71 110.25,620.68 129.32,623.91 148.39,626.41 167.45,629.42 186.52,633.60 205.59,637.52 224.66,641.33 243.73,645.02 262.79,646.89 281.86,648.54 300.93,648.94 320.00,649.22 339.07,648.32 358.13,647.52 377.20,647.77 396.27,647.92 415.34,646.88 434.41,645.78 453.47,643.91 472.54,643.13 491.61,642.76 510.68,642.40 529.75,642.40 548.81,643.00 567.88,643.65 586.95,644.15 606.02,646.09 625.09,647.10 644.15,647.77 663.22,648.45 682.29,649.19 701.36,649.94 720.43,651.14 739.49,653.01 758.56,653.27 777.63,653.53 796.70,653.78 815.77,654.00 834.83,654.21 853.90,654.43 872.97,655.06 892.04,655.87 911.11,656.69 930.17,656.95 949.24,657.13 968.31,657.23 987.38,655.94 1006.45,654.62 1025.51,653.35 1044.58,652.30 1063.65,651.15 1082.72,649.25 1101.79,647.37 1120.85,646.04 1139.92,644.72 1158.90,643.40" fill="none" stroke="#2792d1" stroke-opacity="0.85" stroke-width="1.8" stroke-linejoin="round" stroke-linecap="butt"/>
<polyline points="5.60,609.90 14.91,610.38 33.98,613.93 53.05,617.06 72.11,619.59 91.18,625.48 110.25,632.94 129.32,634.43 148.39,636.61 167.45,639.51 186.52,641.26 205.59,642.70 224.66,648.04 243.73,652.59 262.79,653.93 281.86,655.65 300.93,655.99 320.00,652.19 339.07,647.59 358.13,641.49 377.20,640.91 396.27,641.69 415.34,642.93 434.41,644.21 453.47,645.89 472.54,644.35 491.61,642.98 510.68,641.90 529.75,640.83 548.81,641.74 567.88,642.83 586.95,644.32 606.02,648.10 625.09,649.53 644.15,650.66 663.22,651.30 682.29,652.46 701.36,650.50 720.43,652.44 739.49,654.32 758.56,654.77 777.63,655.21 796.70,655.18 815.77,654.31 834.83,654.61 853.90,654.90 872.97,656.94 892.04,659.23 911.11,660.09 930.17,660.80 949.24,660.80 968.31,660.53 987.38,655.83 1006.45,649.99 1025.51,644.78 1044.58,642.67 1063.65,641.31 1082.72,643.99 1101.79,646.71 1120.85,649.23 1139.92,647.66 1158.90,646.10" fill="none" stroke="#e47e18" stroke-opacity="0.85" stroke-width="1.8" stroke-linejoin="round" stroke-linecap="butt"/>
<circle cx="78" cy="608.6" r="24" fill="#000" fill-opacity="0.17"/>
<line x1="67.3" y1="608" x2="87.9" y2="608" stroke="#fff" stroke-width="1.7"/>
<line x1="77.8" y1="597.7" x2="77.8" y2="618.3" stroke="#fff" stroke-width="1.7"/>
<circle cx="102.7" cy="592.2" r="8" fill="#fff"/>
<circle cx="102.7" cy="592.2" r="5.4" fill="#ec4343"/></svg>
</body></html>
